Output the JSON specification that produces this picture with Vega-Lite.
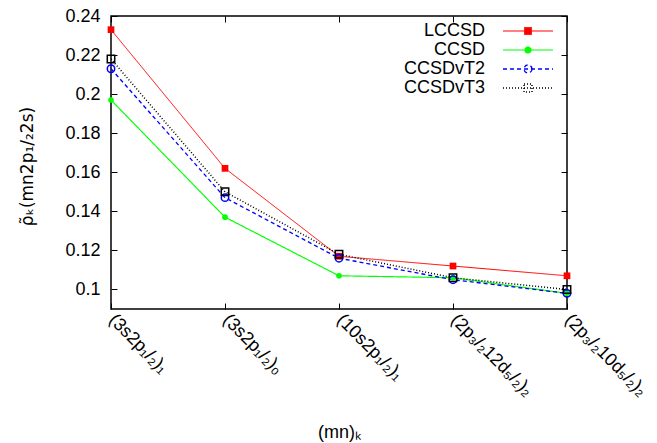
{
  "$schema": "https://vega.github.io/schema/vega-lite/v6.json",
  "autosize": {"type": "none"},
  "padding": {"left": 111, "top": 16, "right": 90, "bottom": 134},
  "width": 456,
  "height": 293,
  "background": "white",
  "config": {
    "font": "Liberation Sans",
    "view": {"stroke": "black", "strokeWidth": 1.5},
    "axis": {"grid": false, "domain": false, "tickColor": "black", "tickWidth": 1, "labelColor": "black", "titleColor": "black", "labelFont": "Liberation Sans", "titleFont": "Liberation Sans", "labelFontSize": 18, "titleFontSize": 18, "titleFontWeight": "normal"}
  },
  "data": {"values": [
    {"series": "LCCSD", "state": "(3s2p₁/₂)₁", "v": 0.233},
    {"series": "LCCSD", "state": "(3s2p₁/₂)₀", "v": 0.162},
    {"series": "LCCSD", "state": "(10s2p₁/₂)₁", "v": 0.117},
    {"series": "LCCSD", "state": "(2p₃/₂12d₅/₂)₂", "v": 0.112},
    {"series": "LCCSD", "state": "(2p₃/₂10d₅/₂)₂", "v": 0.107},
    {"series": "CCSD", "state": "(3s2p₁/₂)₁", "v": 0.197},
    {"series": "CCSD", "state": "(3s2p₁/₂)₀", "v": 0.137},
    {"series": "CCSD", "state": "(10s2p₁/₂)₁", "v": 0.107},
    {"series": "CCSD", "state": "(2p₃/₂12d₅/₂)₂", "v": 0.106},
    {"series": "CCSD", "state": "(2p₃/₂10d₅/₂)₂", "v": 0.098},
    {"series": "CCSDvT2", "state": "(3s2p₁/₂)₁", "v": 0.213},
    {"series": "CCSDvT2", "state": "(3s2p₁/₂)₀", "v": 0.147},
    {"series": "CCSDvT2", "state": "(10s2p₁/₂)₁", "v": 0.116},
    {"series": "CCSDvT2", "state": "(2p₃/₂12d₅/₂)₂", "v": 0.105},
    {"series": "CCSDvT2", "state": "(2p₃/₂10d₅/₂)₂", "v": 0.098},
    {"series": "CCSDvT3", "state": "(3s2p₁/₂)₁", "v": 0.218},
    {"series": "CCSDvT3", "state": "(3s2p₁/₂)₀", "v": 0.150},
    {"series": "CCSDvT3", "state": "(10s2p₁/₂)₁", "v": 0.118},
    {"series": "CCSDvT3", "state": "(2p₃/₂12d₅/₂)₂", "v": 0.106},
    {"series": "CCSDvT3", "state": "(2p₃/₂10d₅/₂)₂", "v": 0.100}
  ]},
  "resolve": {"axis": {"x": "independent", "y": "independent"}},
  "layer": [
    {
      "mark": {"type": "line", "clip": true},
      "encoding": {
        "x": {"field": "state", "type": "ordinal", "sort": null,
          "scale": {"type": "point", "padding": 0, "domain": ["(3s2p₁/₂)₁", "(3s2p₁/₂)₀", "(10s2p₁/₂)₁", "(2p₃/₂12d₅/₂)₂", "(2p₃/₂10d₅/₂)₂"]},
          "axis": {"title": "(mn)ₖ", "tickSize": -6, "labelAngle": 45, "labelAlign": "left", "labelBaseline": "middle", "labelPadding": 14, "labelFlush": false, "labelOverlap": false, "titleX": 228, "titleY": 123, "titleBaseline": "middle", "titleAnchor": null}},
        "y": {"field": "v", "type": "quantitative",
          "scale": {"domain": [0.09, 0.24], "nice": false, "zero": false},
          "axis": {"title": "ρ̃ₖ(mn2p₁/₂2s)", "titleFont": "DejaVu Sans", "titleFontSize": 17, "format": ".2~f", "values": [0.1, 0.12, 0.14, 0.16, 0.18, 0.2, 0.22, 0.24], "tickSize": -6, "labelPadding": 17, "titleX": -84, "titleY": 150, "titleBaseline": "middle", "titleAngle": -90, "titleAnchor": null}},
        "color": {"field": "series", "type": "nominal",
          "scale": {"domain": ["LCCSD", "CCSD", "CCSDvT2", "CCSDvT3"], "range": ["#ff0000", "#00ff00", "#0000ff", "#000000"]},
          "legend": {
            "title": null, "orient": "none", "legendX": 408, "legendY": 6, "padding": 0,
            "labelFontSize": 18, "labelColor": "black", "labelFont": "Liberation Sans",
            "labelAlign": "right", "labelOffset": -52, "symbolSize": 100, "rowPadding": 1,
            "symbolStrokeWidth": 1.2,
            "encode": {"symbols": {"update": {
              "shape": {"signal": "datum.value == 'LCCSD' ? 'M-5,0L5,0M-0.7,-0.7L0.7,-0.7L0.7,0.7L-0.7,0.7Z' : datum.value == 'CCSD' ? 'M-5,0L5,0M0.6,0A0.6,0.6 0 1,1 -0.6,0A0.6,0.6 0 1,1 0.6,0Z' : datum.value == 'CCSDvT2' ? 'M-5,0L5,0M0.8,0A0.8,0.8 0 1,1 -0.8,0A0.8,0.8 0 1,1 0.8,0Z' : 'M-5,0L5,0M-0.8,-0.8L0.8,-0.8L0.8,0.8L-0.8,0.8Z'"},
              "size": {"value": 100},
              "fill": {"signal": "datum.value == 'LCCSD' ? '#ff0000' : datum.value == 'CCSD' ? '#00ff00' : 'transparent'"},
              "stroke": {"scale": "color", "field": "value"},
              "strokeDash": {"signal": "datum.value == 'CCSDvT2' ? [4,3] : datum.value == 'CCSDvT3' ? [1,2] : [1,0]"},
              "opacity": {"value": 1}
            }}}
          }},
        "strokeDash": {"field": "series", "type": "nominal",
          "scale": {"domain": ["LCCSD", "CCSD", "CCSDvT2", "CCSDvT3"], "range": [[1, 0], [1, 0], [4, 3], [1, 2]]}, "legend": null},
        "strokeWidth": {"field": "series", "type": "nominal",
          "scale": {"domain": ["LCCSD", "CCSD", "CCSDvT2", "CCSDvT3"], "range": [1, 1.5, 1.5, 1]}, "legend": null}
      }
    },
    {
      "transform": [{"filter": "datum.series == 'LCCSD'"}],
      "mark": {"type": "point", "shape": "square", "filled": true, "color": "#ff0000", "size": 45, "opacity": 1},
      "encoding": {
        "x": {"field": "state", "type": "ordinal", "sort": null,
          "axis": {"orient": "top", "title": null, "labels": false, "tickSize": -6}},
        "y": {"field": "v", "type": "quantitative",
          "axis": {"orient": "right", "title": null, "labels": false, "values": [0.1, 0.12, 0.14, 0.16, 0.18, 0.2, 0.22, 0.24], "tickSize": -6}}
      }
    },
    {
      "transform": [{"filter": "datum.series == 'CCSD'"}],
      "mark": {"type": "point", "shape": "circle", "filled": true, "color": "#00ff00", "size": 32, "opacity": 1},
      "encoding": {
        "x": {"field": "state", "type": "ordinal", "sort": null, "axis": null},
        "y": {"field": "v", "type": "quantitative", "axis": null}
      }
    },
    {
      "transform": [{"filter": "datum.series == 'CCSDvT2'"}],
      "mark": {"type": "point", "shape": "circle", "filled": false, "color": "#0000ff", "size": 55, "strokeWidth": 1.5, "opacity": 1},
      "encoding": {
        "x": {"field": "state", "type": "ordinal", "sort": null, "axis": null},
        "y": {"field": "v", "type": "quantitative", "axis": null}
      }
    },
    {
      "transform": [{"filter": "datum.series == 'CCSDvT3'"}],
      "mark": {"type": "point", "shape": "square", "filled": false, "color": "#000000", "size": 55, "strokeWidth": 1.5, "opacity": 1},
      "encoding": {
        "x": {"field": "state", "type": "ordinal", "sort": null, "axis": null},
        "y": {"field": "v", "type": "quantitative", "axis": null}
      }
    }
  ]
}
